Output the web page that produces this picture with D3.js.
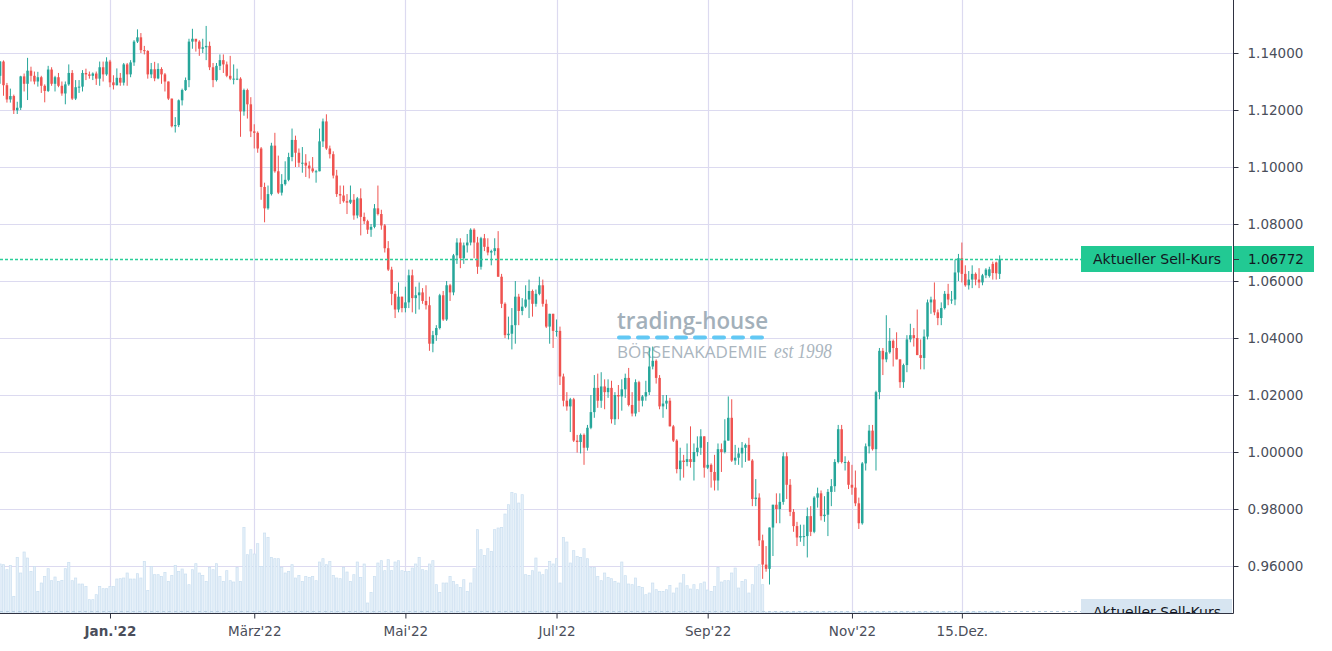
<!DOCTYPE html>
<html><head><meta charset="utf-8">
<script src="https://cdn.jsdelivr.net/npm/d3@7"></script>
<style>html,body{margin:0;padding:0;background:#fff;overflow:hidden}</style>
</head><body>
<svg id="c" width="1332" height="651"></svg>
<script>
// ---------------- DATA (EUR/USD daily, bar index 0 = first bar of Jan 2022) ----------------
const firstBarIndex = -32;
const openPx = [
1.1320,1.1370,1.1287,1.1237,1.1249,1.1199,1.1208,1.1318,1.1292,1.1338,1.1320,1.1300,1.1315,1.1285,1.1267,1.1342,1.1292,1.1315,1.1285,1.1258,1.1290,1.1330,1.1240,1.1280,1.1282,1.1330,1.1325,1.1320,1.1328,1.1310,1.1350,1.1325,
1.1370,1.1297,1.1287,1.1313,1.1296,1.1360,1.1325,1.1367,1.1440,1.1455,1.1410,1.1407,1.1325,1.1343,1.1311,1.1344,1.1325,1.1300,1.1240,1.1143,1.1147,
1.1234,1.1270,1.1305,1.1440,1.1450,1.1440,1.1415,1.1420,1.1425,1.1350,1.1305,1.1355,1.1375,1.1360,1.1320,1.1310,1.1310,1.1310,1.1195,1.1270,
1.1220,1.1125,1.1120,1.1065,1.0930,1.0855,1.0905,1.1075,1.0985,1.0910,1.0940,1.0955,1.1035,1.1095,1.1050,1.1015,1.1015,1.1005,1.0995,1.0985,1.0985,1.1090,1.1160,
1.1065,1.1045,1.0970,1.0905,1.0900,1.0880,1.0875,1.0885,1.0830,1.0890,1.0825,1.0810,1.0780,1.0790,1.0855,1.0835,1.0795,1.0715,1.0640,1.0555,1.0500,
1.0545,1.0505,1.0525,1.0620,1.0540,1.0550,1.0560,1.0530,1.0515,1.0380,1.0410,1.0435,1.0550,1.0465,1.0585,1.0560,1.0690,1.0735,1.0680,1.0725,1.0735,1.0780,
1.0735,1.0650,1.0750,1.0720,1.0700,1.0705,1.0715,1.0615,1.0520,1.0410,1.0415,1.0445,1.0545,1.0495,1.0510,1.0535,1.0565,1.0520,1.0555,1.0585,1.0520,1.0440,
1.0485,1.0425,1.0425,1.0265,1.0180,1.0160,1.0185,1.0040,1.0035,1.0060,1.0015,1.0085,1.0140,1.0225,1.0180,1.0230,1.0210,1.0225,1.0115,1.0200,1.0195,
1.0220,1.0260,1.0165,1.0135,1.0245,1.0180,1.0195,1.0210,1.0300,1.0320,1.0260,1.0160,1.0170,1.0180,1.0090,1.0040,0.9940,0.9970,0.9965,0.9975,0.9965,1.0000,1.0015,
1.0055,0.9945,0.9955,0.9930,0.9900,1.0010,1.0000,1.0040,1.0120,0.9970,0.9980,0.9995,1.0015,1.0025,0.9970,0.9835,0.9840,0.9690,0.9605,0.9590,0.9735,0.9815,
0.9800,0.9825,0.9985,0.9885,0.9790,0.9740,0.9700,0.9705,0.9705,0.9775,0.9720,0.9840,0.9855,0.9775,0.9780,0.9860,0.9880,0.9965,1.0080,0.9965,0.9965,
0.9885,0.9875,0.9820,0.9750,0.9960,1.0020,1.0075,1.0010,1.0210,1.0355,1.0325,1.0350,1.0390,1.0365,1.0325,1.0245,1.0305,1.0395,1.0410,1.0400,1.0340,1.0330,
1.0405,1.0525,1.0535,1.0490,1.0470,1.0505,1.0555,1.0535,1.0535,1.0630,1.0680,1.0625,1.0585,1.0605,1.0625,1.0605,1.0595,1.0620,1.0618,1.0660,1.0665,1.0625];
const highPx = [
1.1372,1.1374,1.1295,1.1275,1.1254,1.1229,1.1320,1.1328,1.1383,1.1352,1.1335,1.1334,1.1320,1.1290,1.1355,1.1350,1.1320,1.1330,1.1300,1.1300,1.1360,1.1340,1.1305,1.1305,1.1340,1.1345,1.1335,1.1332,1.1335,1.1370,1.1370,1.1385,
1.1376,1.1322,1.1346,1.1330,1.1365,1.1365,1.1375,1.1445,1.1483,1.1470,1.1425,1.1410,1.1365,1.1369,1.1364,1.1350,1.1330,1.1300,1.1240,1.1175,1.1237,
1.1275,1.1314,1.1450,1.1485,1.1449,1.1445,1.1450,1.1495,1.1440,1.1365,1.1365,1.1395,1.1395,1.1370,1.1390,1.1360,1.1345,1.1315,1.1275,1.1275,
1.1245,1.1150,1.1125,1.1070,1.0945,1.0935,1.1085,1.1120,1.1040,1.0975,1.1020,1.1050,1.1135,1.1110,1.1065,1.1070,1.1045,1.1020,1.1035,1.0990,1.1135,1.1170,1.1185,
1.1075,1.1055,1.0990,1.0935,1.0935,1.0905,1.0935,1.0905,1.0895,1.0925,1.0840,1.0815,1.0800,1.0870,1.0935,1.0850,1.0800,1.0740,1.0650,1.0565,1.0595,
1.0545,1.0580,1.0640,1.0640,1.0580,1.0595,1.0575,1.0585,1.0545,1.0425,1.0445,1.0555,1.0565,1.0600,1.0590,1.0695,1.0750,1.0750,1.0735,1.0765,1.0785,1.0785,
1.0755,1.0755,1.0765,1.0750,1.0710,1.0750,1.0775,1.0625,1.0525,1.0475,1.0505,1.0600,1.0555,1.0540,1.0585,1.0605,1.0570,1.0570,1.0615,1.0605,1.0535,1.0485,
1.0485,1.0465,1.0440,1.0275,1.0210,1.0190,1.0190,1.0060,1.0065,1.0065,1.0095,1.0200,1.0270,1.0275,1.0280,1.0255,1.0255,1.0250,1.0210,1.0235,1.0255,
1.0275,1.0295,1.0210,1.0255,1.0250,1.0200,1.0250,1.0365,1.0370,1.0325,1.0270,1.0200,1.0200,1.0190,1.0095,1.0045,1.0015,0.9990,1.0030,1.0090,1.0030,1.0055,1.0080,
1.0055,1.0035,0.9960,0.9990,1.0030,1.0030,1.0115,1.0195,1.0185,1.0025,1.0015,1.0035,1.0030,1.0050,0.9975,0.9905,0.9855,0.9710,0.9670,0.9735,0.9815,0.9855,
0.9855,0.9999,0.9999,0.9905,0.9800,0.9755,0.9745,0.9745,0.9805,0.9810,0.9845,0.9875,0.9865,0.9845,0.9870,0.9905,0.9975,1.0095,1.0095,0.9985,0.9970,
0.9955,0.9935,0.9840,0.9965,1.0030,1.0095,1.0095,1.0215,1.0365,1.0365,1.0480,1.0435,1.0395,1.0420,1.0325,1.0310,1.0410,1.0450,1.0435,1.0500,1.0395,1.0430,
1.0535,1.0545,1.0595,1.0500,1.0525,1.0565,1.0590,1.0565,1.0675,1.0695,1.0735,1.0655,1.0635,1.0655,1.0630,1.0645,1.0625,1.0645,1.0650,1.0668,1.0668,1.0690];
const lowPx = [
1.1292,1.1250,1.1226,1.1226,1.1186,1.1186,1.1200,1.1265,1.1235,1.1300,1.1290,1.1282,1.1260,1.1227,1.1263,1.1285,1.1265,1.1280,1.1250,1.1220,1.1285,1.1235,1.1235,1.1260,1.1265,1.1305,1.1310,1.1305,1.1288,1.1285,1.1300,1.1320,
1.1280,1.1272,1.1286,1.1285,1.1286,1.1285,1.1315,1.1355,1.1435,1.1400,1.1395,1.1310,1.1312,1.1301,1.1308,1.1292,1.1265,1.1235,1.1139,1.1121,1.1140,
1.1216,1.1267,1.1280,1.1415,1.1405,1.1390,1.1400,1.1375,1.1340,1.1280,1.1300,1.1340,1.1330,1.1315,1.1305,1.1290,1.1305,1.1106,1.1180,1.1170,
1.1105,1.1065,1.1050,1.0885,1.0806,1.0850,1.0900,1.0980,1.0905,1.0900,1.0935,1.0950,1.1020,1.1000,1.1000,1.0980,1.0965,1.0960,1.0980,1.0945,1.0985,1.1070,1.1060,
1.1030,1.0960,1.0895,1.0870,1.0875,1.0835,1.0870,1.0815,1.0820,1.0760,1.0800,1.0765,1.0755,1.0785,1.0830,1.0780,1.0700,1.0635,1.0515,1.0470,1.0490,
1.0490,1.0490,1.0505,1.0490,1.0485,1.0500,1.0520,1.0500,1.0355,1.0350,1.0390,1.0430,1.0460,1.0460,1.0530,1.0550,1.0660,1.0645,1.0660,1.0700,1.0725,1.0680,
1.0625,1.0640,1.0705,1.0690,1.0655,1.0690,1.0615,1.0505,1.0400,1.0395,1.0360,1.0380,1.0445,1.0480,1.0505,1.0470,1.0475,1.0510,1.0550,1.0510,1.0435,1.0380,
1.0365,1.0405,1.0235,1.0160,1.0145,1.0070,1.0035,0.9998,0.9995,0.9955,1.0005,1.0080,1.0120,1.0155,1.0155,1.0150,1.0190,1.0100,1.0095,1.0115,1.0145,
1.0190,1.0160,1.0125,1.0125,1.0140,1.0160,1.0180,1.0200,1.0290,1.0240,1.0150,1.0120,1.0150,1.0090,1.0035,0.9925,0.9900,0.9910,0.9950,0.9945,0.9900,0.9985,0.9990,
0.9910,0.9940,0.9875,0.9865,0.9865,0.9930,0.9995,1.0040,0.9965,0.9955,0.9955,0.9945,0.9965,0.9970,0.9810,0.9810,0.9670,0.9555,0.9580,0.9535,0.9635,0.9750,
0.9750,0.9815,0.9835,0.9775,0.9720,0.9670,0.9685,0.9670,0.9630,0.9705,0.9715,0.9805,0.9760,0.9755,0.9705,0.9810,0.9860,0.9960,0.9960,0.9935,0.9870,
0.9850,0.9810,0.9730,0.9745,0.9935,0.9995,1.0005,0.9935,1.0185,1.0270,1.0315,1.0345,1.0300,1.0325,1.0225,1.0225,1.0280,1.0385,1.0370,1.0340,1.0290,1.0290,
1.0395,1.0485,1.0480,1.0445,1.0445,1.0500,1.0515,1.0520,1.0515,1.0600,1.0595,1.0580,1.0570,1.0575,1.0585,1.0575,1.0585,1.0610,1.0612,1.0605,1.0605,1.0607];
const closePx = [
1.1370,1.1287,1.1237,1.1249,1.1199,1.1208,1.1318,1.1292,1.1338,1.1320,1.1300,1.1315,1.1285,1.1267,1.1342,1.1292,1.1315,1.1285,1.1258,1.1290,1.1330,1.1240,1.1280,1.1282,1.1330,1.1325,1.1320,1.1328,1.1310,1.1350,1.1325,1.1370,
1.1297,1.1287,1.1313,1.1296,1.1360,1.1325,1.1367,1.1440,1.1455,1.1410,1.1407,1.1325,1.1343,1.1311,1.1344,1.1325,1.1300,1.1240,1.1143,1.1147,1.1234,
1.1270,1.1305,1.1440,1.1450,1.1440,1.1415,1.1420,1.1425,1.1350,1.1305,1.1355,1.1375,1.1360,1.1320,1.1310,1.1310,1.1310,1.1195,1.1270,1.1220,
1.1125,1.1120,1.1065,1.0930,1.0855,1.0905,1.1075,1.0985,1.0910,1.0940,1.0955,1.1035,1.1095,1.1050,1.1015,1.1015,1.1005,1.0995,1.0985,1.0985,1.1090,1.1160,1.1065,
1.1045,1.0970,1.0905,1.0900,1.0880,1.0875,1.0885,1.0830,1.0890,1.0825,1.0810,1.0780,1.0790,1.0855,1.0835,1.0795,1.0715,1.0640,1.0555,1.0500,1.0545,
1.0505,1.0525,1.0620,1.0540,1.0550,1.0560,1.0530,1.0515,1.0380,1.0410,1.0435,1.0550,1.0465,1.0585,1.0560,1.0690,1.0735,1.0680,1.0725,1.0735,1.0780,1.0735,
1.0650,1.0750,1.0720,1.0700,1.0705,1.0715,1.0615,1.0520,1.0410,1.0415,1.0445,1.0545,1.0495,1.0510,1.0535,1.0565,1.0520,1.0555,1.0585,1.0520,1.0440,1.0485,
1.0425,1.0425,1.0265,1.0180,1.0160,1.0185,1.0040,1.0035,1.0060,1.0015,1.0085,1.0140,1.0225,1.0180,1.0230,1.0210,1.0225,1.0115,1.0200,1.0195,1.0220,
1.0260,1.0165,1.0135,1.0245,1.0180,1.0195,1.0210,1.0300,1.0320,1.0260,1.0160,1.0170,1.0180,1.0090,1.0040,0.9940,0.9970,0.9965,0.9975,0.9965,1.0000,1.0015,1.0055,
0.9945,0.9955,0.9930,0.9900,1.0010,1.0000,1.0040,1.0120,0.9970,0.9980,0.9995,1.0015,1.0025,0.9970,0.9835,0.9840,0.9690,0.9605,0.9590,0.9735,0.9815,0.9800,
0.9825,0.9985,0.9885,0.9790,0.9740,0.9700,0.9705,0.9705,0.9775,0.9720,0.9840,0.9855,0.9775,0.9780,0.9860,0.9880,0.9965,1.0080,0.9965,0.9965,0.9885,
0.9875,0.9820,0.9750,0.9960,1.0020,1.0075,1.0010,1.0210,1.0355,1.0325,1.0350,1.0390,1.0365,1.0325,1.0245,1.0305,1.0395,1.0410,1.0400,1.0340,1.0330,1.0405,
1.0525,1.0535,1.0490,1.0470,1.0505,1.0555,1.0535,1.0535,1.0630,1.0680,1.0625,1.0585,1.0605,1.0625,1.0605,1.0595,1.0620,1.0640,1.0641,1.0628,1.0627,1.0677];
const volume = [
147,145,130,143,50,167,120,183,165,125,140,65,90,110,133,97,108,95,98,133,152,97,105,87,87,80,40,40,55,80,73,73,
80,80,102,103,105,120,102,102,118,105,155,68,140,115,115,110,122,95,113,143,125,132,117,85,130,148,120,113,95,137,
130,148,110,95,127,97,93,137,95,257,175,190,177,208,140,240,227,167,163,163,137,120,125,145,105,113,95,110,107,110,
97,153,163,145,155,113,105,103,137,123,95,115,153,107,147,30,62,110,150,157,127,160,127,153,157,127,125,125,135,147,
167,130,127,147,157,85,62,90,90,110,95,85,77,100,65,90,133,250,190,173,193,185,250,255,257,297,325,362,358,330,355,
115,113,127,165,123,115,130,155,147,163,90,227,213,150,187,170,167,193,163,137,137,110,97,120,107,103,95,90,153,112,
87,85,105,80,77,55,60,90,70,65,65,70,83,60,75,90,115,82,72,85,70,88,93,69,65,80,137,93,97,97,120,135,75,95,100,60,85,140,145,85,
3,3,3,3,3,3,3,3,3,3,3,3,3,3,3,3,3,3,3,3,3,3,3,3,3,3,3,3,3,3,3,3,3,3,3,3,3,3,3,3,3,3,3,3,3,3,3,3,3,3,3,3,3,3,3,3,3,3,3,3,3,3,3,3,3,3,3,3,3];
const priceTicks = [0.96,0.98,1.00,1.02,1.04,1.06,1.08,1.10,1.12,1.14];
const timeTickIndex = [0,42,86,130,174,216,248];
const timeTickLabels = ["Jan.'22","März'22","Mai'22","Jul'22","Sep'22","Nov'22","15.Dez."];
const lastPrice = 1.06772;
const lastLabel = "Aktueller Sell-Kurs";

// ---------------- LAYOUT ----------------
const W = 1332, H = 651, plotR = 1233, plotB = 613;
const UP = "#26a69a", DOWN = "#ef5350", GRID = "#dcdaf0", AXIS = "#2f3241", TXT = "#4a4e5a";
const LABEL_GREEN = "#22c993";

const svg = d3.select("#c");
svg.append("rect").attr("width", W).attr("height", H).attr("fill", "#fff");

const x = d3.scaleLinear().domain([-32.02, 326.93]).range([0, plotR]);
const y = d3.scaleLinear().domain([0.94351, 1.15860]).range([plotB, 0]);
const yVol = d3.scaleLinear().domain([0, 400]).range([plotB, plotB - 133.3]);

const bars = closePx.map((c, k) => ({
  i: firstBarIndex + k, o: openPx[k], h: highPx[k], l: lowPx[k], c: c, v: volume[k]
}));

svg.append("defs").append("clipPath").attr("id", "plot")
  .append("rect").attr("x", 0).attr("y", 0).attr("width", plotR).attr("height", plotB);

const plot = svg.append("g").attr("clip-path", "url(#plot)");

// grid
plot.append("g").selectAll("line").data(priceTicks).join("line")
  .attr("x1", 0).attr("x2", plotR)
  .attr("y1", d => Math.round(y(d)) + 0.5).attr("y2", d => Math.round(y(d)) + 0.5)
  .attr("stroke", GRID).attr("stroke-width", 1.2);
plot.append("g").selectAll("line").data(timeTickIndex).join("line")
  .attr("y1", 0).attr("y2", plotB)
  .attr("x1", d => Math.round(x(d)) + 0.5).attr("x2", d => Math.round(x(d)) + 0.5)
  .attr("stroke", GRID).attr("stroke-width", 1.2);

// volume
plot.append("g").selectAll("rect").data(bars).join("rect")
  .attr("x", d => x(d.i) - 1.1).attr("width", 2.2)
  .attr("y", d => yVol(d.v)).attr("height", d => plotB - yVol(d.v))
  .attr("fill", "#e6f0f9").attr("stroke", "#cadff0").attr("stroke-width", 0.7);

// watermark
const wm = plot.append("g");
wm.append("text").attr("x", 617).attr("y", 329).text("trading-house")
  .attr("font-family", "'Open Sans', sans-serif").attr("font-weight", 600).attr("font-size", 24)
  .attr("fill", "#a3b0ba").attr("textLength", 151).attr("lengthAdjust", "spacingAndGlyphs");
wm.append("line").attr("x1", 619).attr("x2", 766).attr("y1", 337.5).attr("y2", 337.5)
  .attr("stroke", "#62c8f4").attr("stroke-width", 4).attr("stroke-linecap", "round")
  .attr("stroke-dasharray", "10 9");
wm.append("text").attr("x", 617).attr("y", 358).text("BÖRSENAKADEMIE")
  .attr("font-family", "'Open Sans', sans-serif").attr("font-size", 16)
  .attr("fill", "#aab5be").attr("textLength", 150).attr("lengthAdjust", "spacingAndGlyphs");
wm.append("text").attr("x", 774).attr("y", 358).text("est 1998")
  .attr("font-family", "'Liberation Serif', serif").attr("font-style", "italic").attr("font-size", 21)
  .attr("fill", "#aab5be").attr("textLength", 58).attr("lengthAdjust", "spacingAndGlyphs");

// volume last-value line
plot.append("line").attr("x1", 0).attr("x2", 1081).attr("y1", 611.5).attr("y2", 611.5)
  .attr("stroke", "#b9cfe2").attr("stroke-width", 1).attr("stroke-dasharray", "3 3");

// candles
const cg = plot.append("g");
cg.selectAll("line").data(bars).join("line")
  .attr("x1", d => x(d.i)).attr("x2", d => x(d.i))
  .attr("y1", d => y(d.h)).attr("y2", d => y(d.l))
  .attr("stroke", d => d.c >= d.o ? UP : DOWN).attr("stroke-width", 1);
cg.selectAll("rect").data(bars).join("rect")
  .attr("x", d => x(d.i) - 1.25).attr("width", 2.5)
  .attr("y", d => y(Math.max(d.o, d.c)))
  .attr("height", d => Math.max(1, Math.abs(y(d.o) - y(d.c))))
  .attr("fill", d => d.c >= d.o ? UP : DOWN);

// last price line
plot.append("line").attr("x1", 0).attr("x2", 1081)
  .attr("y1", Math.round(y(lastPrice)) + 0.5).attr("y2", Math.round(y(lastPrice)) + 0.5)
  .attr("stroke", "#2bcf99").attr("stroke-width", 1.3).attr("stroke-dasharray", "3 2");

// bottom volume label (clipped)
plot.append("rect").attr("x", 1081).attr("y", 599).attr("width", 151).attr("height", 26).attr("fill", "#d7e5f1");
plot.append("text").attr("x", 1157).attr("y", 617).attr("text-anchor", "middle").text(lastLabel)
  .attr("font-family", "'DejaVu Sans', sans-serif").attr("font-size", 14).attr("fill", "#131722");

// axes
const yAxis = d3.axisRight(y).tickValues(priceTicks).tickFormat(d3.format(".5f")).tickSize(5).tickSizeOuter(0).tickPadding(9);
const gy = svg.append("g").attr("transform", `translate(${plotR + 0.5},0)`).call(yAxis);
gy.select(".domain").remove();
gy.append("line").attr("x1", 0).attr("x2", 0).attr("y1", 0).attr("y2", plotB + 0.5).attr("stroke", AXIS);
gy.selectAll(".tick line").attr("stroke", AXIS);
gy.selectAll(".tick text").attr("fill", TXT).attr("font-size", 13.5)
  .attr("font-family", "'DejaVu Sans', sans-serif");

const xAxis = d3.axisBottom(x).tickValues(timeTickIndex).tickFormat((d, k) => timeTickLabels[k]).tickSize(5).tickSizeOuter(0).tickPadding(8);
const gx = svg.append("g").attr("transform", `translate(0,${plotB + 0.5})`).call(xAxis);
gx.select(".domain").remove();
gx.append("line").attr("x1", 0).attr("x2", plotR + 0.5).attr("y1", 0).attr("y2", 0).attr("stroke", AXIS);
gx.selectAll(".tick line").attr("stroke", AXIS);
gx.selectAll(".tick text").attr("fill", TXT).attr("font-size", 13.5)
  .attr("font-family", "'DejaVu Sans', sans-serif")
  .attr("font-weight", (d, k) => k === 0 ? "bold" : "normal");

// current price labels
const ly = Math.round(y(lastPrice));
svg.append("rect").attr("x", 1081).attr("y", ly - 13).attr("width", 151).attr("height", 26).attr("fill", LABEL_GREEN);
svg.append("text").attr("x", 1157).attr("y", ly + 5).attr("text-anchor", "middle").text(lastLabel)
  .attr("font-family", "'DejaVu Sans', sans-serif").attr("font-size", 14).attr("fill", "#131722");
svg.append("rect").attr("x", plotR + 1).attr("y", ly - 13).attr("width", 80).attr("height", 26).attr("fill", LABEL_GREEN);
svg.append("line").attr("x1", plotR + 1).attr("x2", plotR + 6).attr("y1", ly + 0.5).attr("y2", ly + 0.5).attr("stroke", AXIS);
svg.append("text").attr("x", plotR + 15).attr("y", ly + 5).text(d3.format(".5f")(lastPrice))
  .attr("font-family", "'DejaVu Sans', sans-serif").attr("font-size", 13.5).attr("fill", "#131722");
</script>
</body></html>
